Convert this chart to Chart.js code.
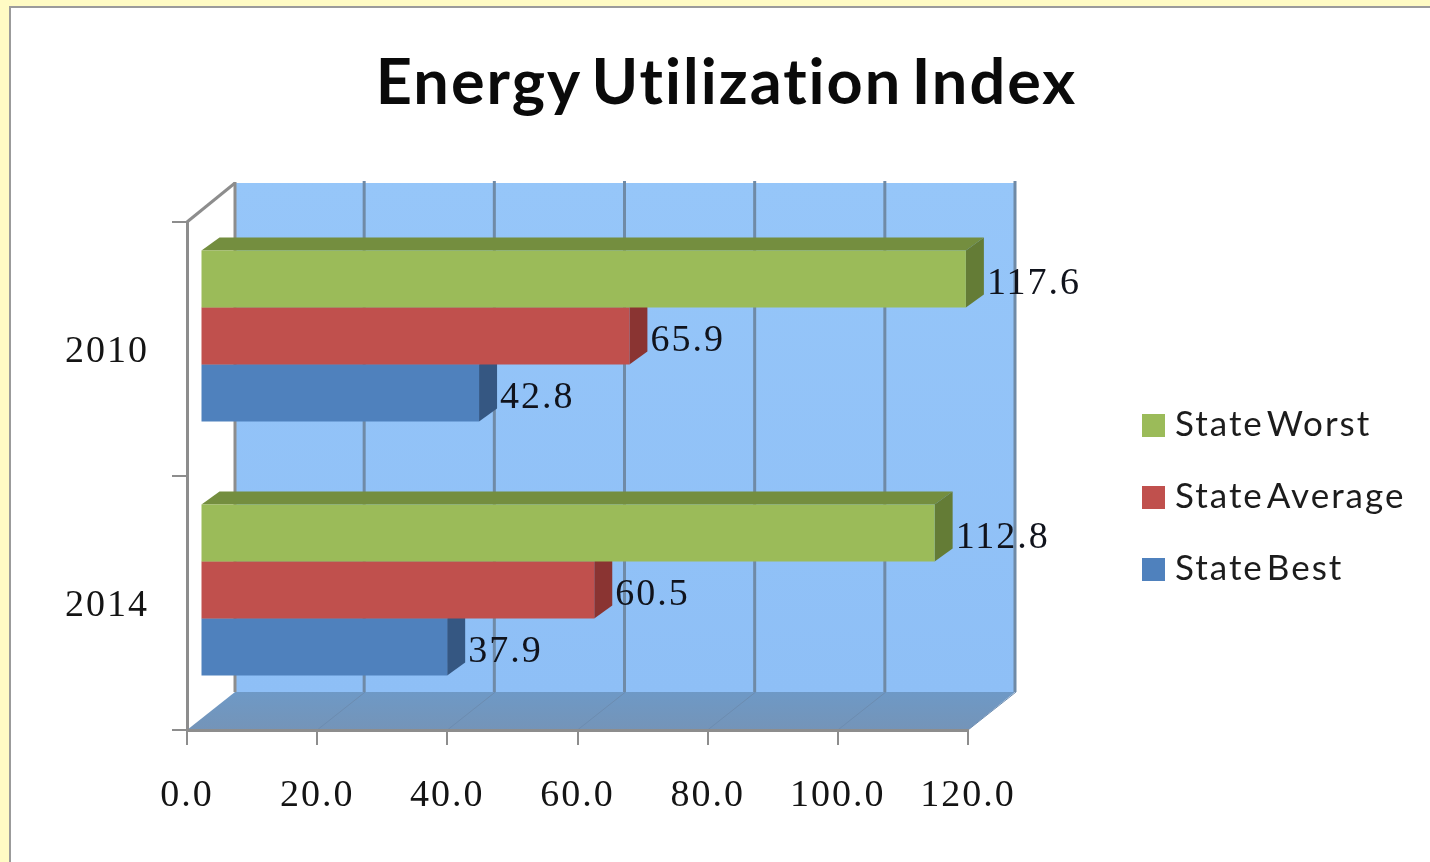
<!DOCTYPE html>
<html>
<head>
<meta charset="utf-8">
<title>Energy Utilization Index</title>
<style>
  html, body { margin: 0; padding: 0; width: 1430px; height: 862px; overflow: hidden; background: #fffbc4; }
  #panel { position: absolute; left: 9px; top: 6px; width: 1440px; height: 900px; background: #fff; border: 2px solid #9b9b9b; }
  #chart { position: absolute; left: 0; top: 0; }
</style>
<script src="https://cdn.jsdelivr.net/npm/chart.js@4"></script>
</head>
<body>
<div id="panel"></div>
<canvas id="chart" width="1430" height="862"></canvas>
<script>
const categories = ['2010', '2014'];
const stateWorst = [117.6, 112.8];
const stateAverage = [65.9, 60.5];
const stateBest = [42.8, 37.9];
const axisTicks = [0, 20, 40, 60, 80, 100, 120];

const seriesLabels = ['State Worst', 'State Average', 'State Best'];
const frontColors = ['#9bbb59', '#c0504d', '#4f81bd'];
const topColors = ['#748e3f', '#8f3b39', '#3a5f8d'];
const sideColors = ['#647c36', '#8a3432', '#355782'];

// Projection of the box: back wall, and the bars part-way into it.
const WALL_DX = 48, WALL_DY = 38;
const BAR_DX = 13.5, BAR_DY = 13;
const DEPTH_DX = 18, DEPTH_DY = 13;
const GREY = '#8d8d8d';

function poly(ctx, pts, fill) {
  ctx.beginPath();
  pts.forEach((p, i) => i ? ctx.lineTo(p[0], p[1]) : ctx.moveTo(p[0], p[1]));
  ctx.closePath();
  ctx.fillStyle = fill;
  ctx.fill();
}
function segment(ctx, x1, y1, x2, y2, color, width) {
  ctx.beginPath();
  ctx.moveTo(x1, y1);
  ctx.lineTo(x2, y2);
  ctx.strokeStyle = color;
  ctx.lineWidth = width;
  ctx.stroke();
}

const box3d = {
  id: 'box3d',
  afterLayout(chart) {
    // The plot sits left of the legend, the heading is centred over the whole figure.
    chart.titleBlock.left = 0;
    chart.titleBlock.right = 1453;
    // Category names sit slightly below the middle of their band.
    const y = chart.scales.y;
    const drawLabels = y.drawLabels;
    y.drawLabels = function (area) {
      this.ctx.save();
      this.ctx.translate(1, 3);
      drawLabels.call(this, area);
      this.ctx.restore();
    };
  },
  beforeDraw(chart) {
    const { ctx, chartArea: a, scales: { x } } = chart;
    ctx.letterSpacing = '2px';
    ctx.wordSpacing = '-8px';
    ctx.save();
    const wallL = a.left + WALL_DX, wallR = a.right + WALL_DX - 1;
    const wallT = a.top - WALL_DY - 1, wallB = a.bottom - WALL_DY;

    const wall = ctx.createLinearGradient(0, wallT, 0, wallB);
    wall.addColorStop(0, '#96c6f9');
    wall.addColorStop(1, '#8ebff6');
    ctx.fillStyle = wall;
    ctx.fillRect(wallL, wallT, wallR - wallL, wallB - wallT);

    const floor = ctx.createLinearGradient(0, wallB, 0, a.bottom);
    floor.addColorStop(0, '#6e99c6');
    floor.addColorStop(1, '#7494b8');
    poly(ctx, [[a.left, a.bottom], [a.right, a.bottom], [wallR, wallB], [wallL, wallB]], floor);

    axisTicks.forEach(v => {
      const px = x.getPixelForValue(v);
      if (v > 0 && v < axisTicks[axisTicks.length - 1]) {
        segment(ctx, px + WALL_DX - 1, wallT - 2, px + WALL_DX - 1, wallB, '#6f8aa6', 3);
      }
      if (v > 0) segment(ctx, px, a.bottom, px + WALL_DX, wallB, '#6c8cb0', 1);
    });
    segment(ctx, wallR, wallT - 2, wallR, wallB, '#6f8aa6', 3);
    segment(ctx, wallL, wallT - 1, wallL, wallB, GREY, 3);
    segment(ctx, a.left, a.top, wallL, wallT, GREY, 3);
    ctx.restore();
  },
  beforeDatasetDraw(chart, args) {
    const { ctx } = chart;
    ctx.save();
    ctx.translate(BAR_DX, -BAR_DY);
    args.meta.data.forEach(bar => {
      const h = bar.height / 2;
      const top = bar.y - h, bottom = bar.y + h;
      poly(ctx, [[bar.base, top], [bar.x, top], [bar.x + DEPTH_DX, top - DEPTH_DY], [bar.base + DEPTH_DX, top - DEPTH_DY]], topColors[args.index]);
      poly(ctx, [[bar.x, top], [bar.x + DEPTH_DX, top - DEPTH_DY], [bar.x + DEPTH_DX, bottom - DEPTH_DY], [bar.x, bottom]], sideColors[args.index]);
    });
  },
  afterDatasetDraw(chart) {
    chart.ctx.restore();
  },
  afterDatasetsDraw(chart) {
    const { ctx } = chart;
    ctx.save();
    // Value labels just past the end of each bar.
    ctx.font = '38px "Liberation Serif"';
    ctx.fillStyle = '#10131c';
    ctx.textAlign = 'left';
    ctx.textBaseline = 'middle';
    chart.data.datasets.forEach((ds, i) => {
      chart.getDatasetMeta(i).data.forEach((bar, j) => {
        ctx.fillText(ds.data[j].toFixed(1), bar.x + BAR_DX + DEPTH_DX + 3, bar.y - BAR_DY + 5);
      });
    });
    // Legend keys and names.
    ctx.font = '35px Lato';
    chart.data.datasets.forEach((ds, i) => {
      const y = 425 + i * 72;
      ctx.fillStyle = ds.backgroundColor;
      ctx.fillRect(1142, y - 11, 23, 23);
      ctx.fillStyle = '#1c1c1c';
      ctx.fillText(ds.label, 1175, y);
    });
    ctx.restore();
  }
};

new Chart(document.getElementById('chart'), {
  type: 'bar',
  plugins: [box3d],
  data: {
    labels: categories,
    datasets: [
      { label: seriesLabels[0], data: stateWorst, backgroundColor: frontColors[0] },
      { label: seriesLabels[1], data: stateAverage, backgroundColor: frontColors[1] },
      { label: seriesLabels[2], data: stateBest, backgroundColor: frontColors[2] }
    ]
  },
  options: {
    indexAxis: 'y',
    responsive: false,
    animation: false,
    layout: { padding: { left: 40, right: 462, top: 0, bottom: 0 } },
    datasets: { bar: { barPercentage: 1, categoryPercentage: 0.673 } },
    plugins: {
      legend: { display: false },
      tooltip: { enabled: false },
      title: {
        display: true,
        text: 'Energy Utilization Index',
        color: '#0a0a0a',
        font: { family: 'Lato', weight: 'bold', size: 63, lineHeight: 1.2 },
        padding: { top: 46, bottom: 100.4 }
      }
    },
    scales: {
      x: {
        type: 'linear',
        min: 0,
        max: 120,
        afterFit(scale) { scale.height = 132; },
        afterBuildTicks(scale) { scale.ticks = axisTicks.map(value => ({ value })); },
        border: { color: GREY, width: 3 },
        grid: { drawOnChartArea: false, color: GREY, lineWidth: 2, tickLength: 15 },
        ticks: {
          autoSkip: false,
          maxRotation: 0,
          color: '#141414',
          padding: 28,
          font: { family: 'Liberation Serif', size: 38 },
          callback: v => v.toFixed(1)
        }
      },
      y: {
        afterFit(scale) { scale.width = 147; },
        border: { color: GREY, width: 3 },
        grid: { drawOnChartArea: false, offset: true, color: GREY, lineWidth: 2, tickLength: 15 },
        ticks: {
          color: '#141414',
          padding: 24,
          font: { family: 'Liberation Serif', size: 38 }
        }
      }
    }
  }
});
</script>
</body>
</html>
